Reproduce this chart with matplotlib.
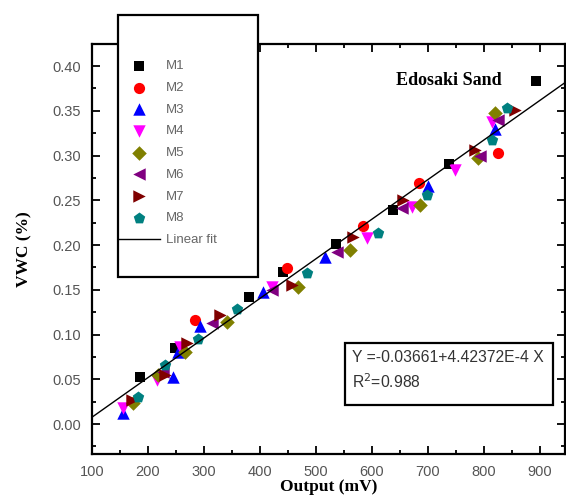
import numpy as np
import matplotlib.pyplot as plt
from matplotlib.patches import Rectangle
from matplotlib.ticker import MultipleLocator

# sensor readings (output in mV, VWC as fraction)
m1_x = [186, 248, 380, 441, 536, 637, 737, 893]
m1_y = [0.052, 0.085, 0.142, 0.170, 0.201, 0.239, 0.290, 0.383]
m2_x = [284, 448, 584, 684, 825]
m2_y = [0.116, 0.174, 0.221, 0.269, 0.303]
m3_x = [155, 245, 254, 293, 405, 516, 700, 820]
m3_y = [0.012, 0.052, 0.081, 0.110, 0.148, 0.187, 0.266, 0.330]
m4_x = [155, 216, 257, 421, 591, 671, 748, 814]
m4_y = [0.018, 0.049, 0.086, 0.153, 0.208, 0.242, 0.284, 0.337]
m5_x = [173, 218, 266, 341, 468, 561, 686, 789, 820]
m5_y = [0.023, 0.055, 0.080, 0.114, 0.153, 0.194, 0.245, 0.297, 0.347]
m6_x = [227, 314, 421, 537, 654, 793, 825]
m6_y = [0.058, 0.113, 0.150, 0.192, 0.241, 0.300, 0.340]
m7_x = [171, 230, 270, 329, 457, 566, 655, 784, 855]
m7_y = [0.027, 0.055, 0.090, 0.122, 0.155, 0.209, 0.250, 0.306, 0.351]
m8_x = [182, 230, 289, 359, 484, 611, 698, 814, 841]
m8_y = [0.030, 0.066, 0.095, 0.129, 0.169, 0.213, 0.256, 0.317, 0.353]

# linear fit parameters as printed on the chart
intercept = -0.03661
slope = 4.42372e-4
r2 = 0.988

series = [
    ("M1", m1_x, m1_y, "s", "black", 55),
    ("M2", m2_x, m2_y, "o", "red", 65),
    ("M3", m3_x, m3_y, "^", "blue", 80),
    ("M4", m4_x, m4_y, "v", "magenta", 80),
    ("M5", m5_x, m5_y, "D", "#808000", 55),
    ("M6", m6_x, m6_y, "<", "#800080", 80),
    ("M7", m7_x, m7_y, ">", "#800000", 80),
    ("M8", m8_x, m8_y, "p", "#008080", 75),
]

W, H = 566, 498
fig = plt.figure(figsize=(W / 100, H / 100), dpi=100)
ax = fig.add_axes([92 / W, 1 - 454 / H, (565 - 92) / W, (454 - 44) / H])

handles = []
for name, xs, ys, mk, col, size in series:
    h = ax.scatter(xs, ys, marker=mk, s=size, color=col, linewidths=0, label=name, zorder=3)
    handles.append(h)

xfit = np.array([100, 945])
line, = ax.plot(xfit, intercept + slope * xfit, color="black", lw=1.0, label="Linear fit", zorder=4)
handles.append(line)

ax.set_xlim(100, 945)
ax.set_ylim(-0.0335, 0.4246)
ax.xaxis.set_major_locator(MultipleLocator(100))
ax.xaxis.set_minor_locator(MultipleLocator(50))
ax.yaxis.set_major_locator(MultipleLocator(0.05))
ax.yaxis.set_minor_locator(MultipleLocator(0.025))
ax.set_xticks(np.arange(100, 901, 100))
ax.yaxis.set_major_formatter(plt.FuncFormatter(lambda v, p: f"{v:.2f}"))

ax.tick_params(which="both", direction="in", top=True, right=True, width=1.3,
               labelsize=10.5, labelcolor="#555555", labelfontfamily="Liberation Sans")
ax.tick_params(which="major", length=6)
ax.tick_params(which="minor", length=3)
ax.tick_params(axis="x", pad=8)
ax.tick_params(axis="y", pad=8)
for sp in ax.spines.values():
    sp.set_linewidth(1.6)

lab_font = dict(family="Liberation Serif", weight="bold", size=12.5, color="black")
ax.set_xlabel("Output (mV)", **lab_font)
ax.xaxis.set_label_coords(0.5, (454 - 479) / 410)
ax.set_ylabel("VWC (%)", labelpad=14, **lab_font)

ax.text(737, 0.384, "Edosaki Sand", ha="center", va="center",
        family="Liberation Serif", weight="bold", size=13)

# equation box
ax.add_patch(Rectangle(((345 - 92) / 473, (454 - 405) / 410), 208 / 473, 62 / 410,
                       transform=ax.transAxes, facecolor="white", edgecolor="black",
                       lw=1.6, zorder=5))
eq_font = dict(family="Liberation Sans", size=11.3, color="#333333", zorder=6,
               transform=ax.transAxes, va="center", ha="left")
ax.text((352 - 92) / 473, (454 - 357) / 410, f"Y =-{abs(intercept):.5f}+4.42372E-4 X", **eq_font)
ax.text((352 - 92) / 473, (454 - 382) / 410, f"R$^2$={r2}", **eq_font)

# legend box sits partly above the axes
fig.patches.append(Rectangle((118 / W, 1 - 277 / H), 140 / W, 262 / H,
                             transform=fig.transFigure, facecolor="white",
                             edgecolor="black", lw=1.6, zorder=5))
leg = fig.legend(handles=handles, loc="upper left",
                 bbox_to_anchor=(118 / W, 1 - 60 / H), frameon=False,
                 borderpad=0, borderaxespad=0, handlelength=3.2, handletextpad=0.4,
                 labelspacing=0.72, prop={"family": "Liberation Sans", "size": 9.5},
                 labelcolor="#666666", scatterpoints=1)
leg.set_zorder(6)

fig.savefig("out.png", dpi=100)
